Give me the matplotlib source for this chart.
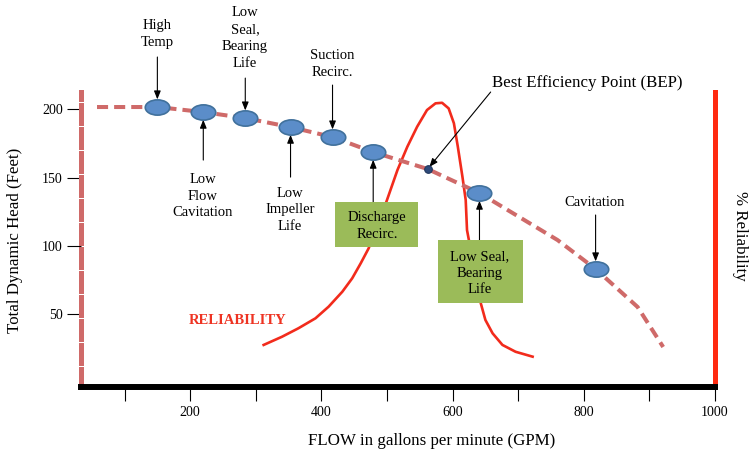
import matplotlib
matplotlib.use('Agg')
import matplotlib.pyplot as plt
from matplotlib.markers import MarkerStyle
from matplotlib.transforms import Affine2D
from matplotlib.patches import Rectangle

plt.rcParams['font.family'] = ['Liberation Serif', 'DejaVu Serif']

# pump head curve (flow in GPM, head in feet)
flow = [58, 150, 220, 284, 353, 417, 479, 562, 641, 760, 818, 882, 921]
head = [201.7, 201.7, 198, 193.6, 187, 179.7, 168.7, 156.3, 138.7, 104.3, 83.1, 55.3, 26]

# problem points marked on the curve
point_names = ['High Temp', 'Low Flow Cavitation', 'Low Seal, Bearing Life', 'Low Impeller Life',
               'Suction Recirc.', 'Discharge Recirc.', 'Low Seal, Bearing Life', 'Cavitation']
point_flow = [150, 220, 284, 353, 417, 479, 641, 818]
point_head = [201.7, 198, 193.6, 187, 179.7, 168.7, 138.7, 83.1]
bep_flow = 562
bep_head = 156.3

# reliability curve (drawn on the head scale)
rel_flow = [312, 340, 365, 391, 411, 432, 447, 460, 472, 487, 500, 516, 531, 546, 561,
            574, 584, 594, 602, 608, 615, 620, 622, 643, 650, 661, 676, 696, 722]
rel_val = [27.5, 33.5, 39.7, 47.0, 55.5, 66.5, 76.3, 87.3, 98.2, 116, 133.6, 155.6, 172.6,
           187.3, 199.5, 204.4, 204.8, 200.7, 189.8, 172.6, 150.7, 133.6, 111.6, 58.0, 45.8,
           36.0, 27.5, 22.5, 18.9]

x_ticks = [100, 200, 300, 400, 500, 600, 700, 800, 900, 1000]
x_tick_labels = ['', '200', '', '400', '', '600', '', '800', '', '1000']
y_ticks = [50, 100, 150, 200]

head_c = '#CF6A69'
red = '#F22B1C'
green = '#9BBB59'

W, H = 755, 468
def P(x, y):
    return (x / W, 1 - y / H)

fig = plt.figure(figsize=(7.55, 4.68), dpi=100)
ax = fig.add_axes([81 / W, 1 - 387 / H, 634 / W, 295 / H])
ax.set_xlim(33.6, 1000)
ax.set_ylim(-3.3, 212.7)

ax.plot(rel_flow, rel_val, color=red, lw=1.9, solid_joinstyle='round', zorder=1)
ax.plot(flow, head, color=head_c, lw=2.9, ls=(0, (2.75, 1.5)), zorder=2)
ell = MarkerStyle('o', transform=Affine2D().scale(1.6, 1))
ax.plot(point_flow, point_head, ls='none', marker=ell, ms=11, mfc='#5B8DC9',
        mec='#41719C', mew=1.2, zorder=4)
ax.plot([bep_flow], [bep_head], ls='none', marker='o', ms=5.5, mfc='#2E4A7A',
        mec='#22385E', mew=0.8, zorder=4)

arrow = dict(arrowstyle='-|>,head_length=0.5,head_width=0.2', color='black', lw=0.8,
             shrinkA=0, shrinkB=5.5, mutation_scale=10)
offsets_px = [50, -48, 40, -50, 52, -50, -47, 54]
for f, h, d in zip(point_flow, point_head, offsets_px):
    ax.annotate('', xy=(f, h), xytext=(0, d * 0.72), textcoords='offset points',
                arrowprops=arrow, annotation_clip=False)
bep_arrow = dict(arrow, shrinkB=2)
ax.annotate('', xy=(bep_flow, bep_head), xytext=(63 * 0.72, 77 * 0.72),
            textcoords='offset points', arrowprops=bep_arrow, annotation_clip=False)

# axes styling
ax.spines['top'].set_visible(False)
ax.spines['bottom'].set_linewidth(4.3)
ax.spines['bottom'].set_color('black')
ax.spines['left'].set_color(head_c)
ax.spines['left'].set_linewidth(3.6)
ax.spines['left'].set_linestyle((0, (3.6, 1.2)))
ax.spines['right'].set_color('#FF2A10')
ax.spines['right'].set_linewidth(3.6)

ax.set_xticks(x_ticks)
ax.set_xticklabels(x_tick_labels)
ax.set_yticks(y_ticks)
ax.tick_params(axis='both', direction='out', length=10, width=0.8, labelsize=10)
ax.tick_params(axis='x', pad=4)
ax.tick_params(axis='y', pad=3)

# green boxes
fig.add_artist(Rectangle(P(335, 247), 83 / W, 45 / H, transform=fig.transFigure,
                         fc=green, ec='none', zorder=1))
fig.add_artist(Rectangle(P(438, 303), 85 / W, 63 / H, transform=fig.transFigure,
                         fc=green, ec='none', zorder=1))

lab = dict(ha='center', va='center', fontsize=10.5, linespacing=1.38, zorder=3)
fig.text(*P(157, 34), 'High\nTemp', **lab)
fig.text(*P(245, 38), 'Low\nSeal,\nBearing\nLife', **lab)
fig.text(*P(332, 64), 'Suction\nRecirc.', **lab)
fig.text(*P(203, 196), 'Low\nFlow\nCavitation', **lab)
fig.text(*P(290, 210), 'Low\nImpeller\nLife', **lab)
fig.text(*P(377, 226), 'Discharge\nRecirc.', **lab)
fig.text(*P(480, 273), 'Low Seal,\nBearing\nLife', **lab)
fig.text(*P(595, 203), 'Cavitation', **lab)
fig.text(*P(587, 83), 'Best Efficiency Point (BEP)', ha='center', va='center', fontsize=12.2)
fig.text(*P(238, 321), 'RELIABILITY', ha='center', va='center', fontsize=10.5,
         fontweight='bold', color='#EE3322')

fig.text(*P(15, 240), 'Total Dynamic Head (Feet)', rotation=90, ha='center', va='center',
         fontsize=12.2)
fig.text(*P(432, 441), 'FLOW in gallons per minute (GPM)', ha='center', va='center',
         fontsize=12.2)
fig.text(*P(740, 236), '% Reliability', rotation=-90, ha='center', va='center', fontsize=12.2)

fig.savefig('out.png', dpi=100)
